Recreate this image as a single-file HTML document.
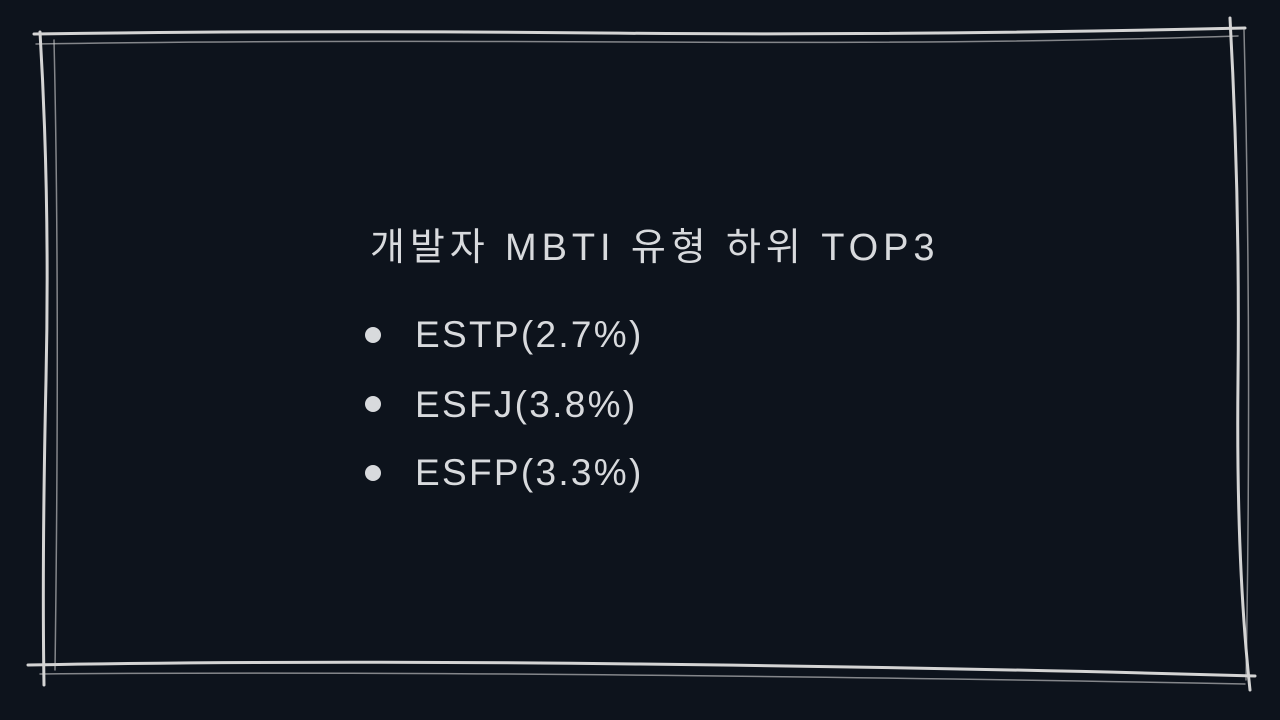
<!DOCTYPE html>
<html>
<head>
<meta charset="utf-8">
<style>
html,body{margin:0;padding:0;}
body{width:1280px;height:720px;background:#0d131c;position:relative;overflow:hidden;font-family:"Liberation Sans","Noto Sans CJK KR",sans-serif;color:#d6d8dc;}
#frame{position:absolute;left:0;top:0;}
#title{position:absolute;left:370px;top:216px;font-size:38px;white-space:nowrap;letter-spacing:4.9px;color:#d8dadd;}
.item{position:absolute;left:415px;font-size:37px;white-space:nowrap;letter-spacing:2.3px;color:#d8dadd;}
.dot{position:absolute;left:365px;width:16px;height:16px;border-radius:50%;background:#d8dadd;}
</style>
</head>
<body>
<svg id="frame" width="1280" height="720">
<g fill="none" stroke="#d4d4d4" stroke-width="3" stroke-linecap="round">
<path d="M34 34 Q300 30 600 33 T1245 28"/>
<path d="M40 32 Q50 200 46 380 T44 685"/>
<path d="M1230 18 Q1240 200 1238 380 T1250 690"/>
<path d="M28 665 Q300 660 640 664 T1255 676"/>
<path d="M36 44 Q280 40 640 42 T1238 36" stroke-width="1.5" opacity="0.6"/>
<path d="M54 40 Q60 300 55 670" stroke-width="1.5" opacity="0.6"/>
<path d="M1244 30 Q1252 350 1246 680" stroke-width="1.5" opacity="0.6"/>
<path d="M40 674 Q500 670 1245 684" stroke-width="1.5" opacity="0.6"/>
</g>
</svg>
<div id="title">개발자 MBTI 유형 하위 TOP3</div>
<div class="dot" style="top:327px"></div>
<div class="item" style="top:314px">ESTP(2.7%)</div>
<div class="dot" style="top:396px"></div>
<div class="item" style="top:384px">ESFJ(3.8%)</div>
<div class="dot" style="top:465px"></div>
<div class="item" style="top:452px">ESFP(3.3%)</div>
</body>
</html>
